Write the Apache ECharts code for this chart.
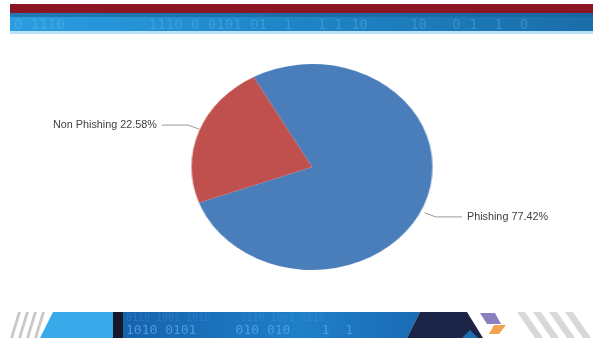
<!DOCTYPE html>
<html>
<head>
<meta charset="utf-8">
<script src="https://cdn.jsdelivr.net/npm/echarts@6/dist/echarts.min.js"></script>
<style>
html,body{margin:0;padding:0;background:#fff;}
#wrap{position:relative;width:601px;height:342px;overflow:hidden;background:#fff;}
#pie,#main{position:absolute;left:0;top:0;width:601px;height:342px;}
#pie{transform:scaleX(1.17);transform-origin:312px 167px;}
</style>
</head>
<body>
<div id="wrap"><div id="pie"></div><div id="main"></div></div>
<script>
const categories = ['Phishing', 'Non Phishing'];
const values = [77.42, 22.58];
const sliceColors = ['#4a7ebb', '#c0504d'];

const pieData = categories.map((c, i) => ({ name: c, value: values[i], itemStyle: { color: sliceColors[i] } }));

const pieChart = echarts.init(document.getElementById('pie'), null, { renderer: 'canvas' });
pieChart.setOption({
  animation: false,
  series: [{
    type: 'pie',
    center: [312, 167],
    radius: 103,
    startAngle: 119,
    silent: true,
    itemStyle: { borderWidth: 0 },
    label: { show: false },
    labelLine: { show: false },
    data: pieData
  }]
});

function stripes(x0, y0, h, n, gap, w, slant, color) {
  const arr = [];
  for (let i = 0; i < n; i++) {
    const x = x0 + i * gap;
    arr.push({
      type: 'polygon',
      shape: { points: slant > 0
        ? [[x + slant, y0], [x + slant + w, y0], [x + w, y0 + h], [x, y0 + h]]
        : [[x, y0], [x + w, y0], [x + w - slant, y0 + h], [x - slant, y0 + h]] },
      style: { fill: color }
    });
  }
  return arr;
}

const graphics = [
  // top banner
  { type: 'rect', shape: { x: 10, y: 4, width: 583, height: 9 }, style: { fill: '#8c1524' } },
  { type: 'rect', shape: { x: 10, y: 13, width: 583, height: 19 },
    style: { fill: new echarts.graphic.LinearGradient(0, 0, 1, 0, [
      { offset: 0, color: '#2b9ee0' }, { offset: 0.45, color: '#1f86c8' }, { offset: 1, color: '#1a6eaa' }]) } },
  { type: 'rect', shape: { x: 10, y: 13, width: 583, height: 4 }, style: { fill: '#1b5f95', opacity: 0.6 } },
  { type: 'rect', shape: { x: 10, y: 31, width: 583, height: 3 }, style: { fill: '#b9e2f6' } },
  { type: 'text', x: 14, y: 18, style: { text: '0 1110          1110 0 0101 01  1   1 1 10     10   0 1  1  0', fill: '#7cc8f2', opacity: 0.3, font: '14px "DejaVu Sans Mono"' } },
  // bottom banner
  ...stripes(10, 312, 26, 4, 8, 3, 8, '#c9c9c9'),
  { type: 'polygon', shape: { points: [[53, 312], [113, 312], [113, 338], [40, 338]] }, style: { fill: '#38aaea' } },
  { type: 'rect', shape: { x: 113, y: 312, width: 10, height: 26 }, style: { fill: '#15192a' } },
  { type: 'polygon', shape: { points: [[123, 312], [420, 312], [407, 338], [123, 338]] },
    style: { fill: new echarts.graphic.LinearGradient(0, 0, 1, 0, [
      { offset: 0, color: '#1762ad' }, { offset: 0.6, color: '#1f7fc8' }, { offset: 1, color: '#1a6bb5' }]) } },
  { type: 'text', x: 126, y: 313, style: { text: '0110 1001 1010     0110 1001 0110', fill: '#4a9be0', opacity: 0.35, font: '10px "DejaVu Sans Mono"' } },
  { type: 'text', x: 126, y: 324, style: { text: '1010 0101     010 010    1  1', fill: '#5cb0f0', opacity: 0.7, font: '13px "DejaVu Sans Mono"' } },
  { type: 'polygon', shape: { points: [[420, 312], [467, 312], [483, 338], [407, 338]] }, style: { fill: '#1c2448' } },
  { type: 'polygon', shape: { points: [[470, 330], [478, 338], [462, 338]] }, style: { fill: '#1f6fb0' } },
  { type: 'polygon', shape: { points: [[480, 313], [495, 313], [501, 324], [487, 324]] }, style: { fill: '#8b7fbf' } },
  { type: 'polygon', shape: { points: [[494, 325], [506, 325], [499, 334], [489, 334]] }, style: { fill: '#f0a24e' } },
  ...stripes(517, 312, 26, 4, 16, 8, -18, '#d8d8d8')
];

const chart = echarts.init(document.getElementById('main'), null, { renderer: 'canvas' });
chart.setOption({
  animation: false,
  backgroundColor: 'transparent',
  graphic: graphics,
  series: [{
    type: 'pie',
    center: [312, 171],
    radius: 120,
    startAngle: 119,
    silent: true,
    itemStyle: { color: 'rgba(0,0,0,0)', borderWidth: 0 },
    emphasis: { disabled: true },
    label: {
      show: true,
      position: 'outside',
      alignTo: 'edge',
      edgeDistance: 53,
      formatter: '{b} {d}%',
      color: '#404040',
      fontSize: 10.8,
      fontFamily: 'Liberation Sans, Arial, sans-serif'
    },
    labelLine: { show: true, length: 12, length2: 10, lineStyle: { color: '#9a9a9a', width: 1 } },
    data: categories.map((c, i) => ({ name: c, value: values[i] }))
  }]
});
</script>
</body>
</html>
